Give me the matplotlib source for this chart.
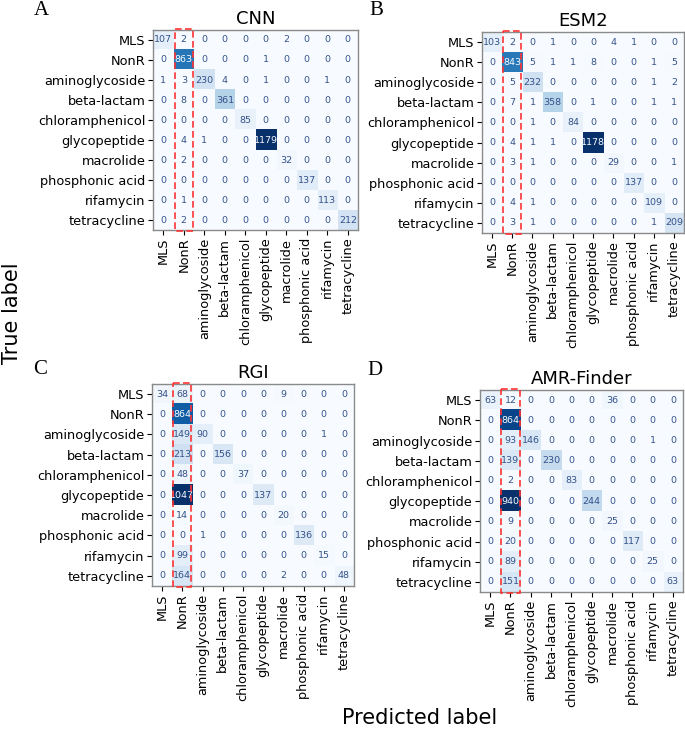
import numpy as np
import matplotlib
matplotlib.use('Agg')
import matplotlib.pyplot as plt
from matplotlib.patches import Rectangle

# class labels (same order on both axes)
classes = ['MLS', 'NonR', 'aminoglycoside', 'beta-lactam', 'chloramphenicol',
           'glycopeptide', 'macrolide', 'phosphonic acid', 'rifamycin', 'tetracycline']

# confusion matrices, rows = true label, columns = predicted label
cm_cnn = [
    [107, 2, 0, 0, 0, 0, 2, 0, 0, 0],
    [0, 863, 0, 0, 0, 1, 0, 0, 0, 0],
    [1, 3, 230, 4, 0, 1, 0, 0, 1, 0],
    [0, 8, 0, 361, 0, 0, 0, 0, 0, 0],
    [0, 0, 0, 0, 85, 0, 0, 0, 0, 0],
    [0, 4, 1, 0, 0, 1179, 0, 0, 0, 0],
    [0, 2, 0, 0, 0, 0, 32, 0, 0, 0],
    [0, 0, 0, 0, 0, 0, 0, 137, 0, 0],
    [0, 1, 0, 0, 0, 0, 0, 0, 113, 0],
    [0, 2, 0, 0, 0, 0, 0, 0, 0, 212],
]
cm_esm2 = [
    [103, 2, 0, 1, 0, 0, 4, 1, 0, 0],
    [0, 843, 5, 1, 1, 8, 0, 0, 1, 5],
    [0, 5, 232, 0, 0, 0, 0, 0, 1, 2],
    [0, 7, 1, 358, 0, 1, 0, 0, 1, 1],
    [0, 0, 1, 0, 84, 0, 0, 0, 0, 0],
    [0, 4, 1, 1, 0, 1178, 0, 0, 0, 0],
    [0, 3, 1, 0, 0, 0, 29, 0, 0, 1],
    [0, 0, 0, 0, 0, 0, 0, 137, 0, 0],
    [0, 4, 1, 0, 0, 0, 0, 0, 109, 0],
    [0, 3, 1, 0, 0, 0, 0, 0, 1, 209],
]
cm_rgi = [
    [34, 68, 0, 0, 0, 0, 9, 0, 0, 0],
    [0, 864, 0, 0, 0, 0, 0, 0, 0, 0],
    [0, 149, 90, 0, 0, 0, 0, 0, 1, 0],
    [0, 213, 0, 156, 0, 0, 0, 0, 0, 0],
    [0, 48, 0, 0, 37, 0, 0, 0, 0, 0],
    [0, 1047, 0, 0, 0, 137, 0, 0, 0, 0],
    [0, 14, 0, 0, 0, 0, 20, 0, 0, 0],
    [0, 0, 1, 0, 0, 0, 0, 136, 0, 0],
    [0, 99, 0, 0, 0, 0, 0, 0, 15, 0],
    [0, 164, 0, 0, 0, 0, 2, 0, 0, 48],
]
cm_amr = [
    [63, 12, 0, 0, 0, 0, 36, 0, 0, 0],
    [0, 864, 0, 0, 0, 0, 0, 0, 0, 0],
    [0, 93, 146, 0, 0, 0, 0, 0, 1, 0],
    [0, 139, 0, 230, 0, 0, 0, 0, 0, 0],
    [0, 2, 0, 0, 83, 0, 0, 0, 0, 0],
    [0, 940, 0, 0, 0, 244, 0, 0, 0, 0],
    [0, 9, 0, 0, 0, 0, 25, 0, 0, 0],
    [0, 20, 0, 0, 0, 0, 0, 117, 0, 0],
    [0, 89, 0, 0, 0, 0, 0, 0, 25, 0],
    [0, 151, 0, 0, 0, 0, 0, 0, 0, 63],
]

titles = ['CNN', 'ESM2', 'RGI', 'AMR-Finder']
letters = ['A', 'B', 'C', 'D']
matrices = [cm_cnn, cm_esm2, cm_rgi, cm_amr]

# axes boxes in figure fraction [left, bottom, width, height]
boxes = [
    [0.2234, 0.6879, 0.2993, 0.2714],
    [0.7036, 0.6839, 0.2950, 0.2727],
    [0.2219, 0.2049, 0.2949, 0.2741],
    [0.7007, 0.1967, 0.2965, 0.2741],
]
letter_pos = [(0.061, 0.986), (0.549, 0.986), (0.058, 0.498), (0.548, 0.497)]

fig = plt.figure(figsize=(6.85, 7.37), dpi=100)
cmap = plt.get_cmap('Blues')
low_txt = '#34528a'

for cm, title, box, letter, lp in zip(matrices, titles, boxes, letters, letter_pos):
    cm = np.array(cm)
    ax = fig.add_axes(box)
    ax.imshow(cm, cmap=cmap, aspect='auto', interpolation='nearest')
    thresh = (cm.max() + cm.min()) / 2.0
    for i in range(cm.shape[0]):
        for j in range(cm.shape[1]):
            col = cmap(0.0) if cm[i, j] > thresh else low_txt
            ax.text(j, i, str(cm[i, j]), ha='center', va='center',
                    fontsize=6.8, color=col)
    ax.set_xticks(range(len(classes)))
    ax.set_yticks(range(len(classes)))
    ax.set_xticklabels(classes, rotation=90, fontsize=9.3)
    ax.set_yticklabels(classes, fontsize=9.3)
    ax.tick_params(length=3.5, width=0.8, pad=2)
    for s in ax.spines.values():
        s.set_color('#8a8a8a')
        s.set_linewidth(1.0)
    ax.set_title(title, fontsize=13, pad=4)
    # highlight the NonR column
    ax.add_patch(Rectangle((0.55, -0.55), 0.9, 10.1, fill=False,
                           edgecolor='#ff3333', linestyle=(0, (4, 2)), linewidth=1.2,
                           clip_on=False, zorder=5))
    fig.text(lp[0], lp[1], letter, fontsize=15, family='Liberation Serif',
             ha='center', va='center')

fig.text(0.017, 0.575, 'True label', rotation=90, fontsize=15,
         ha='center', va='center')
fig.text(0.613, 0.026, 'Predicted label', fontsize=15, ha='center', va='center')

fig.savefig('out.png', dpi=100)
